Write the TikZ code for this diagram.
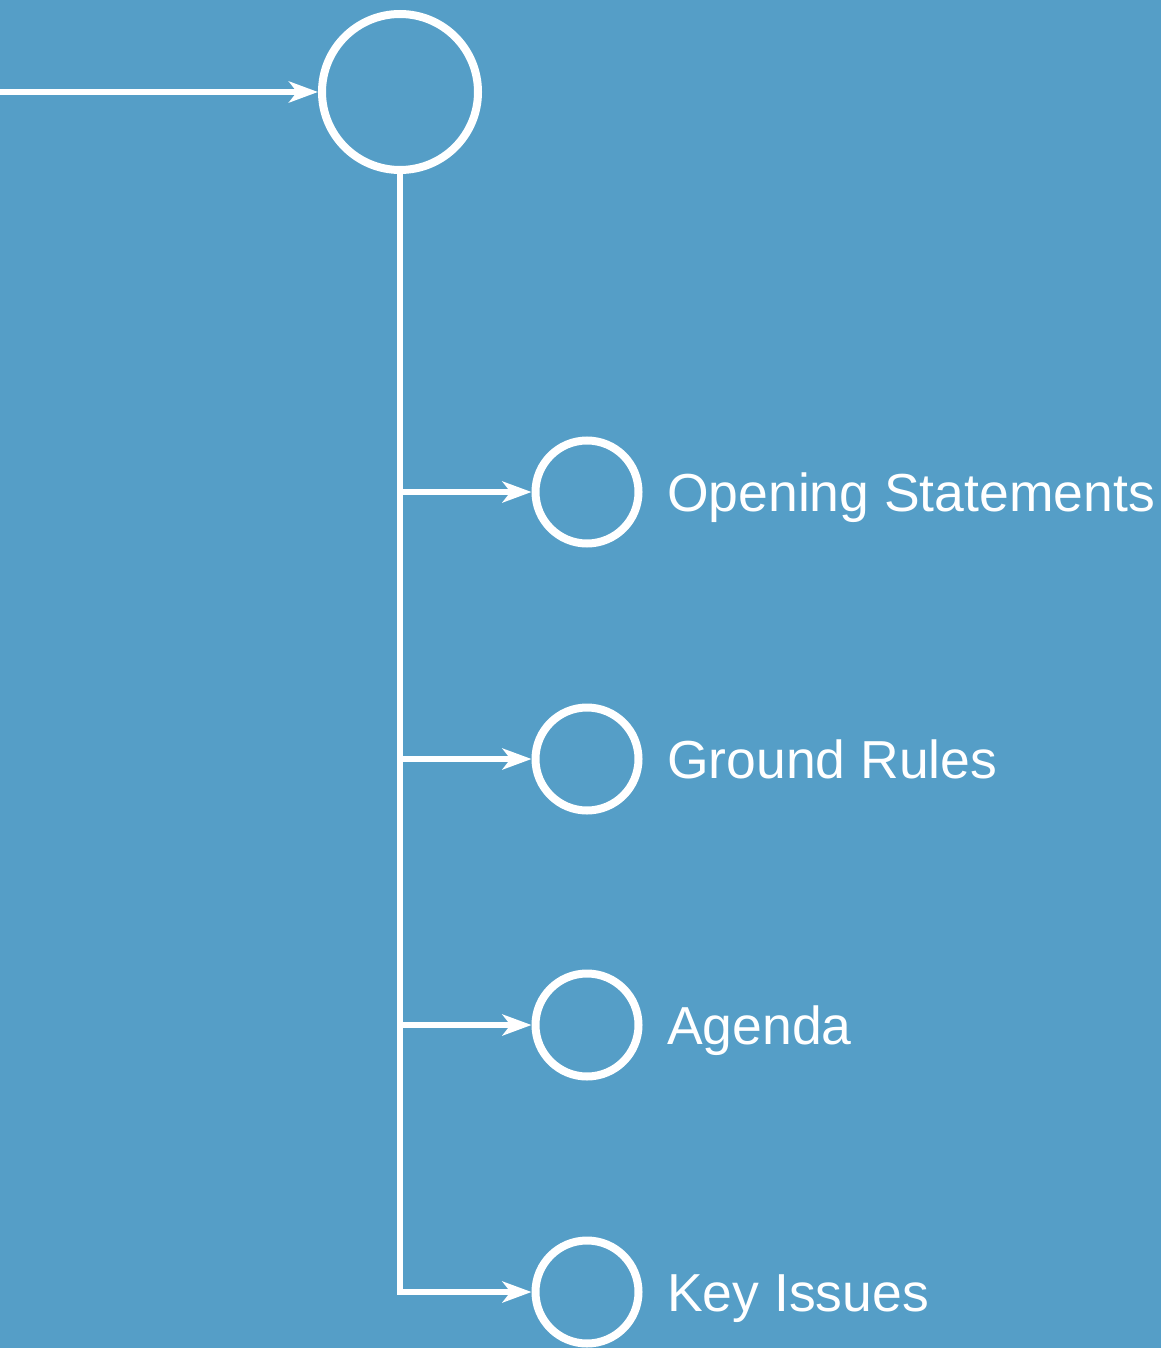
\documentclass[tikz,border=0pt]{standalone}
\usepackage{fontspec}
\setmainfont{Liberation Sans}
\usetikzlibrary{arrows.meta}
\definecolor{bgblue}{HTML}{559EC7}
\begin{document}
\begin{tikzpicture}[x=1pt,y=-1pt,
  bigc/.style={circle,draw=white,line width=8pt,minimum size=156pt,inner sep=0pt},
  smallc/.style={circle,draw=white,line width=8pt,minimum size=103pt,inner sep=0pt},
  conn/.style={draw=white,line width=6.5pt,-{Stealth[length=29pt,width=21pt,inset=8pt]}},
  lbl/.style={text=white,font=\fontsize{53.5}{60}\selectfont,anchor=base west,inner sep=0pt}]
\fill[bgblue] (0,0) rectangle (1161,1348);
\useasboundingbox (0,0) rectangle (1161,1348);
\node[bigc] (top) at (400,92) {};
\coordinate (start) at (0,92);
\node[smallc] (c1) at (587,492) {};
\node[smallc] (c2) at (587,759) {};
\node[smallc] (c3) at (587,1025) {};
\node[smallc] (c4) at (587,1292) {};
\coordinate (j1) at (400,492);
\coordinate (j2) at (400,759);
\coordinate (j3) at (400,1025);
\node[lbl] (l1) at (667,511) {Opening Statements};
\node[lbl] (l2) at (667,778) {Ground Rules};
\node[lbl] (l3) at (667,1044) {Agenda};
\node[lbl] (l4) at (667,1311) {Key Issues};
\draw[conn] (start) -- (top);
\draw[conn] (top.south) |- (c4.west);
\draw[conn] (j1) -- (c1);
\draw[conn] (j2) -- (c2);
\draw[conn] (j3) -- (c3);
\end{tikzpicture}
\end{document}
